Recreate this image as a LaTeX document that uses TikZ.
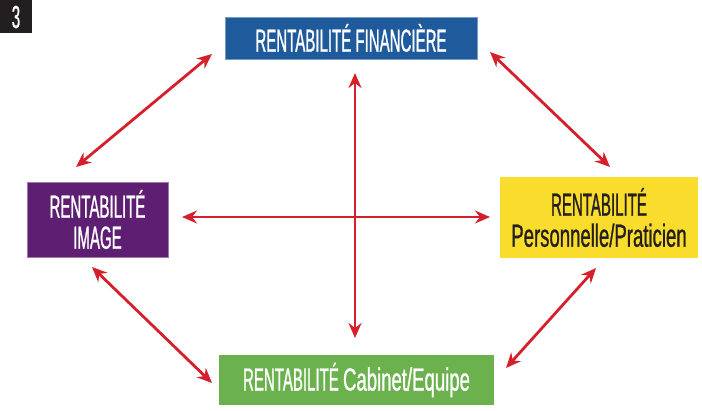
\documentclass[tikz,border=0pt]{standalone}
\usepackage{fontspec}
\newfontfamily\condfont{Liberation Sans}[FakeStretch=0.47,FakeBold=0.8]
\newfontfamily\condlow{Liberation Sans}[FakeStretch=0.58,FakeBold=0.8]
\usetikzlibrary{arrows.meta}
\definecolor{finblue}{HTML}{1F5A9C}
\definecolor{imgpurple}{HTML}{5E1F72}
\definecolor{persyellow}{HTML}{F9DC2C}
\definecolor{cabgreen}{HTML}{6BB24E}
\definecolor{arrowred}{HTML}{D5202B}
\definecolor{badgeblack}{HTML}{231F20}
\tikzset{
  rbox/.style={inner sep=0pt,align=center,text=white,
    font=\condfont\fontsize{32}{31}\selectfont},
  link/.style={draw=arrowred,line width=2.8pt,
    {Stealth[length=15pt,width=13pt,inset=5pt]}-{Stealth[length=15pt,width=13pt,inset=5pt]}}
}
\begin{document}
\begin{tikzpicture}[x=1pt,y=-1pt]
  \useasboundingbox[fill=white] (0,0) rectangle (702,410);
  % badge
  \fill[badgeblack] (0,0) rectangle (32,33);
  \node[rbox,font=\condfont\fontsize{32}{30}\selectfont] (badge) at (16,17) {3};
  % boxes
  \node[rbox,fill=finblue,draw=finblue!60,line width=0.6pt,
    minimum width=252pt,minimum height=42pt] (fin) at (351,38) {RENTABILITÉ FINANCIÈRE};
  \node[rbox,fill=imgpurple,draw=imgpurple!60,line width=0.6pt,
    minimum width=141pt,minimum height=75pt] (img) at (97.5,219.5) {RENTABILITÉ\\IMAGE};
  \node[rbox,fill=persyellow,text=badgeblack,
    minimum width=198pt,minimum height=81pt] (pers) at (599,217.5) {RENTABILITÉ\\{\condlow Personnelle/Praticien}};
  \node[rbox,fill=cabgreen,
    minimum width=275pt,minimum height=50pt] (cab) at (356.5,380) {RENTABILITÉ {\condlow Cabinet/Equipe}};
  % arrow ends
  \coordinate (vtop) at (355,73);
  \coordinate (vbot) at (355,338);
  \coordinate (hleft) at (182,217);
  \coordinate (hright) at (490,217);
  \coordinate (tlA) at (212,54);
  \coordinate (tlB) at (76,167);
  \coordinate (trA) at (490,52);
  \coordinate (trB) at (610,167);
  \coordinate (blA) at (92,267);
  \coordinate (blB) at (212,383);
  \coordinate (brA) at (596,268);
  \coordinate (brB) at (506,368);
  % arrows
  \draw[link] (vtop) -- (vbot);
  \draw[link] (hleft) -- (hright);
  \draw[link] (tlA) -- (tlB);
  \draw[link] (trA) -- (trB);
  \draw[link] (blA) -- (blB);
  \draw[link] (brA) -- (brB);
\end{tikzpicture}
\end{document}
